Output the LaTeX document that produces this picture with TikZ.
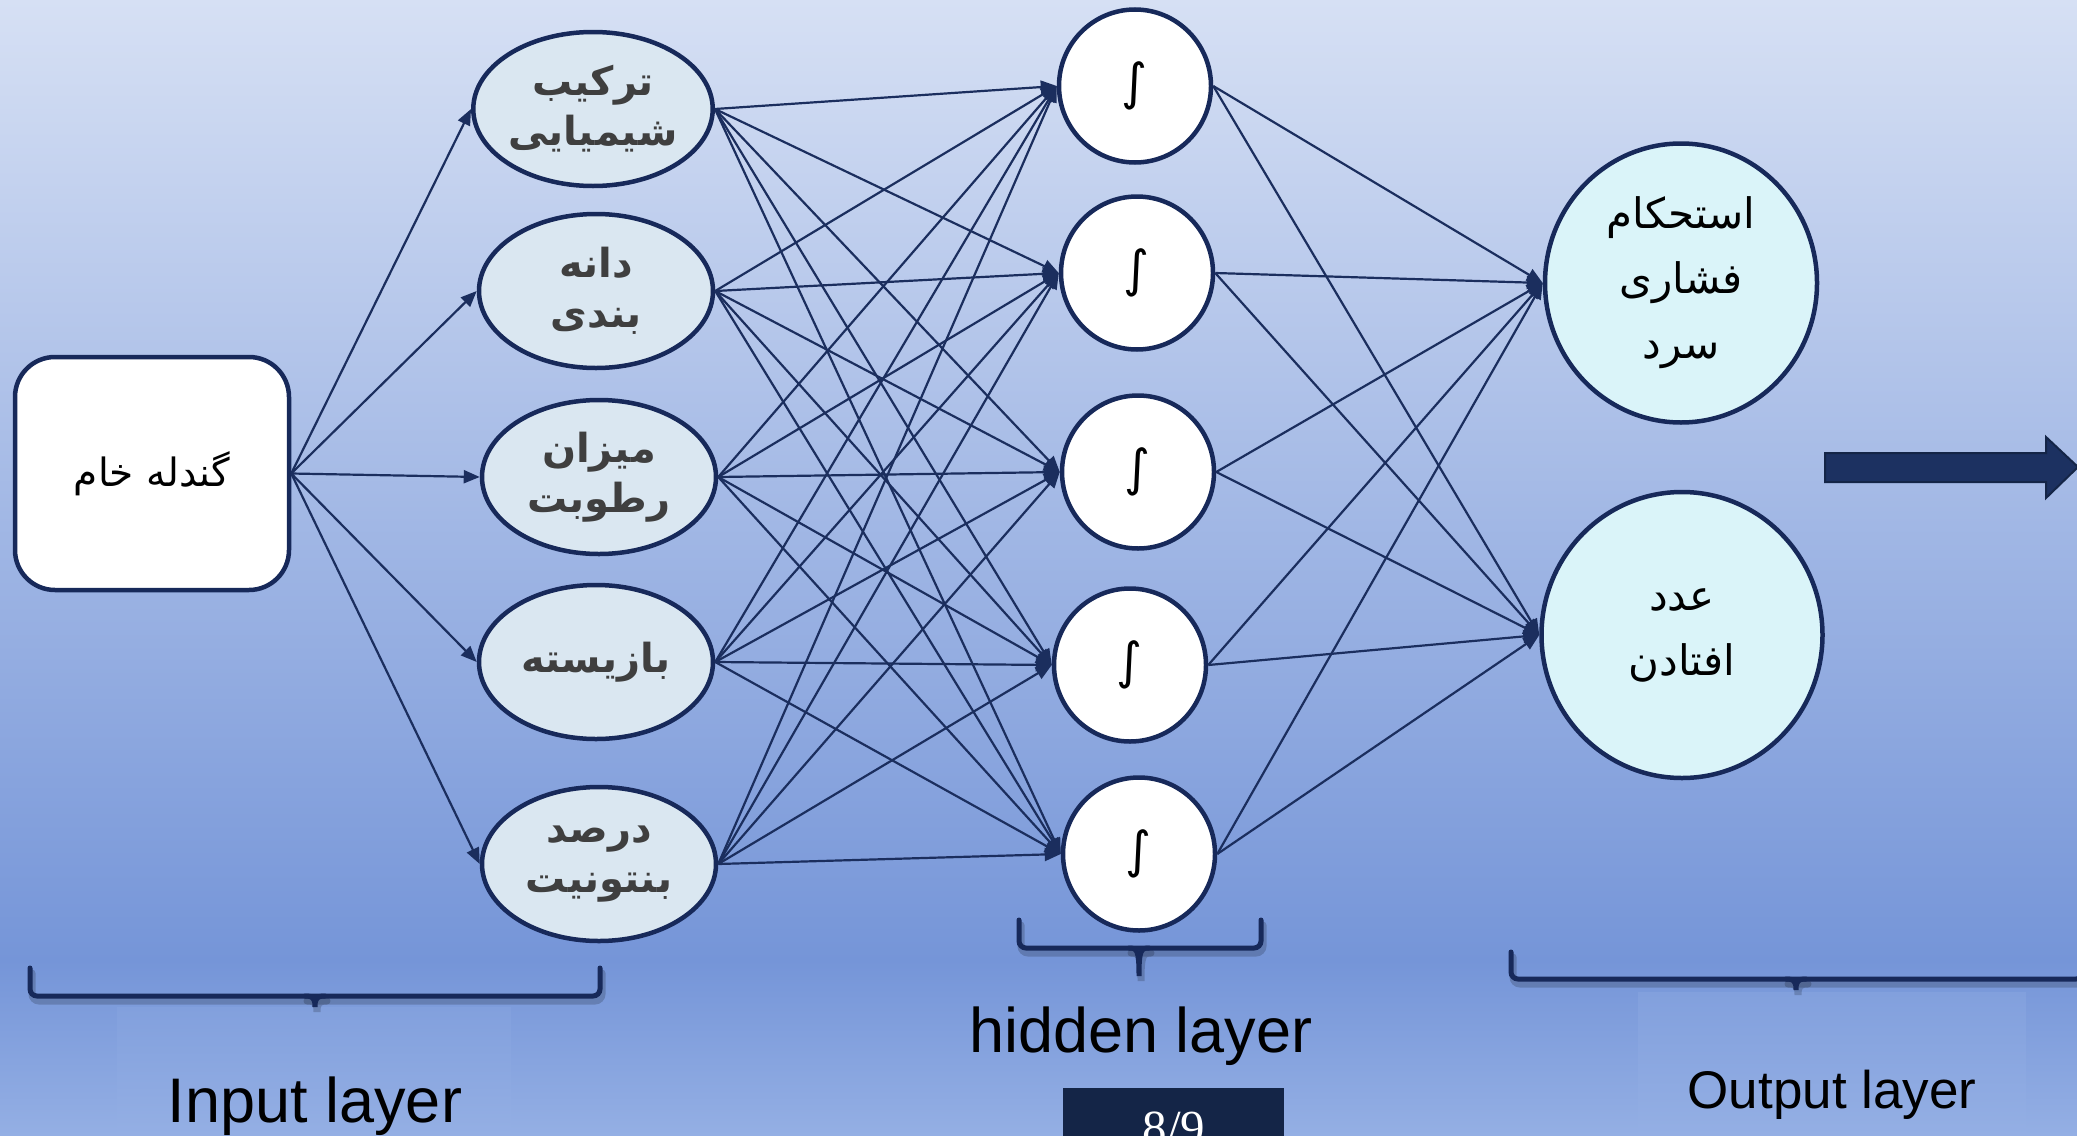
\documentclass[tikz,border=0pt]{standalone}
\usepackage{fontspec}
\setmainfont{Liberation Sans}
\newfontfamily\arabicfont[Script=Arabic]{DejaVu Sans}
\newfontfamily\symfont{DejaVu Sans}
\newfontfamily\numserif{Liberation Serif}
\TeXXeTstate=1
\usetikzlibrary{arrows.meta,shapes.geometric}
\definecolor{navy}{HTML}{17295A}
\definecolor{edgec}{HTML}{1B2E5E}
\definecolor{infill}{HTML}{DAE7F1}
\definecolor{outfill}{HTML}{DAF4F9}
\definecolor{bgtop}{HTML}{D6E0F4}
\definecolor{bgmid}{HTML}{7595D8}
\definecolor{bgbot}{HTML}{94AFE4}
\definecolor{labtop}{HTML}{82A0DD}
\definecolor{txtgray}{HTML}{3F3F3F}
\definecolor{pagebox}{HTML}{142547}
\definecolor{arrowfill}{HTML}{1C3161}
\newcommand\mybrace[7]{%
  \draw[#1,rounded corners=7pt] (#2,#5) -- (#2,#6) -- (#3,#6) -- (#3,#5);
  \draw[#1] (#4-10,#6) .. controls (#4-2,#6) and (#4,#6+2) .. (#4,#7)
            .. controls (#4,#6+2) and (#4+2,#6) .. (#4+10,#6);}
\tikzset{
  inp/.style={ellipse, draw=navy, line width=4.5pt, fill=infill, inner sep=0pt,
    minimum width=234pt, minimum height=154pt, align=center, text=txtgray,
    font=\arabicfont\bfseries\fontsize{40}{50}\selectfont},
  hid/.style={ellipse, draw=navy, line width=4.5pt, fill=white, inner sep=0pt,
    minimum width=152pt, minimum height=153pt, font=\symfont\fontsize{50}{54}\selectfont},
  outp/.style={ellipse, draw=navy, line width=4.5pt, fill=outfill, inner sep=0pt,
    align=center, text=black, font=\arabicfont\fontsize{42}{65}\selectfont},
  srcbox/.style={rectangle, rounded corners=40pt, draw=navy, line width=4.5pt, fill=white,
    minimum width=274pt, minimum height=233pt, inner sep=0pt,
    font=\arabicfont\fontsize{39}{48}\selectfont},
  conn/.style={draw=edgec, line width=2.2pt, -{Triangle[length=16pt,width=13pt]}},
  bracemain/.style={draw=navy, line width=5pt, line cap=round},
  braceshade/.style={draw=black, opacity=0.18, line width=7pt, line cap=round},
  laytext/.style={anchor=base, text=black}
}
\begin{document}
\begin{tikzpicture}[x=1pt,y=-1pt]
\useasboundingbox (0,0) rectangle (2077,1135);
\clip (0,0) rectangle (2077,1135);
% background
\shade[top color=bgtop, bottom color=bgmid] (0,0) rectangle (2077,961);
\shade[top color=bgmid, bottom color=bgbot] (0,960) rectangle (2077,1135);
% label panels
\shade[top color=labtop, bottom color=bgbot] (117,1007) rectangle (511,1135);
\shade[top color=labtop, bottom color=bgbot] (1638,992) rectangle (2026,1135);

% source
\node[srcbox] (src) at (152,473.5) {\beginR گندله خام\endR};

% input layer
\node[inp] (in1) at (593,109) {\beginR ترکیب\endR\\\beginR شیمیایی\endR};
\node[inp] (in2) at (596,291) {\beginR دانه\endR\\\beginR بندی\endR};
\node[inp] (in3) at (599,477) {\beginR میزان\endR\\\beginR رطوبت\endR};
\node[inp] (in4) at (596,662) {\beginR بازیسته\endR};
\node[inp] (in5) at (599,864) {\beginR درصد\endR\\\beginR بنتونیت\endR};

% hidden layer
\node[hid] (h1) at (1135,86) {∫};
\node[hid] (h2) at (1137,273) {∫};
\node[hid] (h3) at (1138,472) {∫};
\node[hid] (h4) at (1130,665) {∫};
\node[hid] (h5) at (1139,854) {∫};

% output layer
\node[outp, minimum width=272pt, minimum height=279pt] (o1) at (1681,283)
  {\beginR استحکام\endR\\\beginR فشاری\endR\\\beginR سرد\endR};
\node[outp, minimum width=281pt, minimum height=286pt] (o2) at (1682,635)
  {\beginR عدد\endR\\\beginR افتادن\endR};

% connections
\foreach \i in {1,...,5} \draw[conn] (src.east) -- (in\i.west);
\foreach \i in {1,...,5} {\foreach \j in {1,...,5} {\draw[conn] (in\i.east) -- (h\j.west);}}
\foreach \j in {1,...,5} {\foreach \k in {1,2} {\draw[conn] (h\j.east) -- (o\k.west);}}

% block arrow
\fill[arrowfill, draw=pagebox, line width=2pt]
  (1825,453) -- (2046,453) -- (2046,437) -- (2078,467) -- (2046,498) -- (2046,482) -- (1825,482) -- cycle;

% braces (shadow then line)
\begin{scope}[shift={(2,5)}]
\mybrace{braceshade}{30}{600}{315}{968}{996}{1007}
\mybrace{braceshade}{1019}{1261}{1139}{920}{948}{976}
\mybrace{braceshade}{1511}{2083}{1796}{952}{979}{990}
\end{scope}
\mybrace{bracemain}{30}{600}{315}{968}{996}{1007}
\mybrace{bracemain}{1019}{1261}{1139}{920}{948}{976}
\mybrace{bracemain}{1511}{2083}{1796}{952}{979}{990}

% layer labels
\node[laytext, font=\fontsize{63}{70}\selectfont] (linput) at (315,1122) {Input layer};
\node[laytext, font=\fontsize{63}{70}\selectfont] (lhidden) at (1141,1052) {hidden layer};
\node[laytext, font=\fontsize{53}{60}\selectfont] (loutput) at (1832,1108) {Output layer};

% page number box
\fill[pagebox] (1063,1088) rectangle (1284,1160);
\node[anchor=base, text=white, font=\numserif\fontsize{49}{55}\selectfont] (pg) at (1174,1144) {8/9};
\end{tikzpicture}
\end{document}
